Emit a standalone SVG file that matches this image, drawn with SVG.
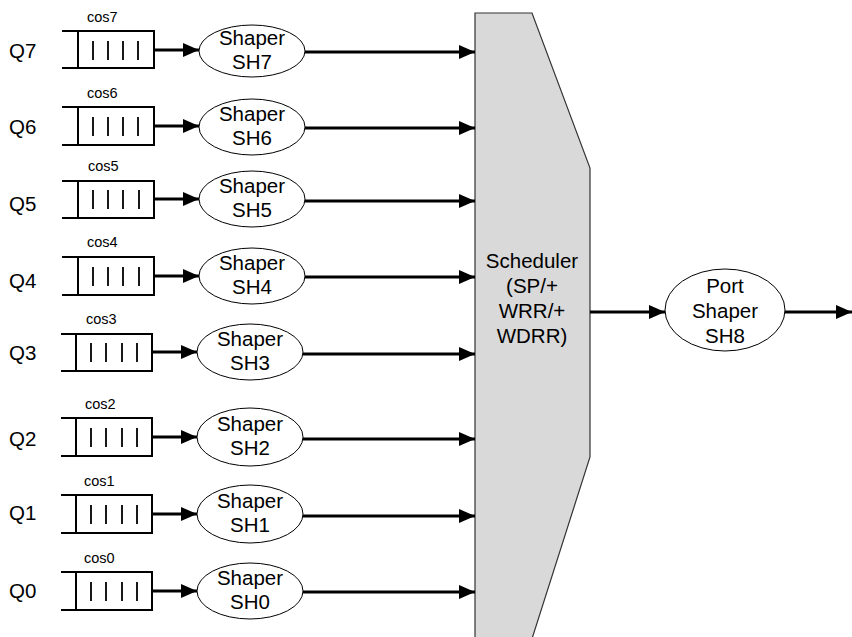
<svg xmlns="http://www.w3.org/2000/svg" width="852" height="637" viewBox="0 0 852 637">
<defs>
<style>
text{font-family:"Liberation Sans",Arial,sans-serif;fill:#000}
.lbl{font-size:20.5px}
.cos{font-size:14.5px}
.c{text-anchor:middle}
.q{fill:none;stroke:#000;stroke-width:2}
.bar{stroke:#000;stroke-width:1.8}
.sh{fill:#fff;stroke:#000;stroke-width:1}
.ar{fill:none;stroke:#000;stroke-width:3}
</style>
<marker id="ah" markerUnits="userSpaceOnUse" markerWidth="16" markerHeight="14" refX="16" refY="7" orient="auto">
<path d="M0,0 L16,7 L0,14 z" fill="#000"/>
</marker>
</defs>
<rect width="852" height="637" fill="#fff"/>

<g id="scheduler">
<polygon points="475,13 532,13 590,168 590,457 530,645 475,645" fill="#d9d9d9" stroke="#333" stroke-width="1.2"/>
<text class="lbl c" x="532" y="268">Scheduler</text>
<text class="lbl c" x="532" y="293">(SP/+</text>
<text class="lbl c" x="532" y="318">WRR/+</text>
<text class="lbl c" x="532" y="343">WDRR)</text>
</g>

<g id="q7">
<text class="lbl" x="9" y="58">Q7</text>
<text class="cos" x="87" y="22">cos7</text>
<path class="q" d="M62,31 H154 V68 H62 M78,31 V68"/>
<path class="bar" d="M93,41 V60 M108,41 V60 M123,41 V60 M138,41 V60"/>
</g>
<g id="sh7">
<ellipse class="sh" cx="252" cy="51" rx="53" ry="26"/>
<text class="lbl c" x="252" y="45">Shaper</text>
<text class="lbl c" x="252" y="69">SH7</text>
</g>

<g id="q6">
<text class="lbl" x="9" y="134">Q6</text>
<text class="cos" x="87" y="98">cos6</text>
<path class="q" d="M62,107 H154 V145 H62 M78,107 V145"/>
<path class="bar" d="M93,117 V136 M108,117 V136 M123,117 V136 M138,117 V136"/>
</g>
<g id="sh6">
<ellipse class="sh" cx="252" cy="127" rx="53" ry="28"/>
<text class="lbl c" x="252" y="121">Shaper</text>
<text class="lbl c" x="252" y="145">SH6</text>
</g>

<g id="q5">
<text class="lbl" x="9" y="211">Q5</text>
<text class="cos" x="88" y="171">cos5</text>
<path class="q" d="M62,181 H154 V218 H62 M78,181 V218"/>
<path class="bar" d="M93,190 V209 M108,190 V209 M123,190 V209 M139,190 V209"/>
</g>
<g id="sh5">
<ellipse class="sh" cx="252" cy="199" rx="53" ry="28"/>
<text class="lbl c" x="252" y="193">Shaper</text>
<text class="lbl c" x="252" y="217">SH5</text>
</g>

<g id="q4">
<text class="lbl" x="9" y="288">Q4</text>
<text class="cos" x="87" y="247">cos4</text>
<path class="q" d="M62,257 H154 V295 H62 M78,257 V295"/>
<path class="bar" d="M93,267 V286 M108,267 V286 M123,267 V286 M139,267 V286"/>
</g>
<g id="sh4">
<ellipse class="sh" cx="252" cy="276" rx="53" ry="28"/>
<text class="lbl c" x="252" y="270">Shaper</text>
<text class="lbl c" x="252" y="294">SH4</text>
</g>

<g id="q3">
<text class="lbl" x="9" y="360">Q3</text>
<text class="cos" x="86" y="324">cos3</text>
<path class="q" d="M61,334 H152 V371 H61 M76,334 V371"/>
<path class="bar" d="M91,343 V362 M106,343 V362 M122,343 V362 M137,343 V362"/>
</g>
<g id="sh3">
<ellipse class="sh" cx="250" cy="352" rx="53" ry="28"/>
<text class="lbl c" x="250" y="346">Shaper</text>
<text class="lbl c" x="250" y="370">SH3</text>
</g>

<g id="q2">
<text class="lbl" x="9" y="446">Q2</text>
<text class="cos" x="85" y="409">cos2</text>
<path class="q" d="M61,418 H152 V456 H61 M76,418 V456"/>
<path class="bar" d="M91,428 V447 M106,428 V447 M122,428 V447 M137,428 V447"/>
</g>
<g id="sh2">
<ellipse class="sh" cx="250" cy="437" rx="53" ry="29"/>
<text class="lbl c" x="250" y="431">Shaper</text>
<text class="lbl c" x="250" y="455">SH2</text>
</g>

<g id="q1">
<text class="lbl" x="9" y="520">Q1</text>
<text class="cos" x="84" y="486">cos1</text>
<path class="q" d="M61,495 H152 V533 H61 M76,495 V533"/>
<path class="bar" d="M91,505 V524 M106,505 V524 M122,505 V524 M137,505 V524"/>
</g>
<g id="sh1">
<ellipse class="sh" cx="250" cy="514" rx="53" ry="29"/>
<text class="lbl c" x="250" y="508">Shaper</text>
<text class="lbl c" x="250" y="532">SH1</text>
</g>

<g id="q0">
<text class="lbl" x="9" y="598">Q0</text>
<text class="cos" x="84" y="563">cos0</text>
<path class="q" d="M61,572 H152 V610 H61 M76,572 V610"/>
<path class="bar" d="M91,582 V601 M106,582 V601 M122,582 V601 M137,582 V601"/>
</g>
<g id="sh0">
<ellipse class="sh" cx="250" cy="591" rx="53" ry="28"/>
<text class="lbl c" x="250" y="585">Shaper</text>
<text class="lbl c" x="250" y="609">SH0</text>
</g>

<g id="sh8">
<ellipse class="sh" cx="725" cy="310" rx="60" ry="41"/>
<text class="lbl c" x="725" y="293">Port</text>
<text class="lbl c" x="725" y="318">Shaper</text>
<text class="lbl c" x="725" y="343">SH8</text>
</g>

<g id="connectors">
<line class="ar" x1="154" y1="50" x2="199" y2="50" marker-end="url(#ah)"/>
<line class="ar" x1="154" y1="126" x2="199" y2="126" marker-end="url(#ah)"/>
<line class="ar" x1="154" y1="199" x2="199" y2="199" marker-end="url(#ah)"/>
<line class="ar" x1="154" y1="276" x2="199" y2="276" marker-end="url(#ah)"/>
<line class="ar" x1="152" y1="352" x2="197" y2="352" marker-end="url(#ah)"/>
<line class="ar" x1="152" y1="437" x2="197" y2="437" marker-end="url(#ah)"/>
<line class="ar" x1="152" y1="514" x2="197" y2="514" marker-end="url(#ah)"/>
<line class="ar" x1="152" y1="591" x2="197" y2="591" marker-end="url(#ah)"/>
<line class="ar" x1="305" y1="52" x2="475" y2="52" marker-end="url(#ah)"/>
<line class="ar" x1="305" y1="128" x2="475" y2="128" marker-end="url(#ah)"/>
<line class="ar" x1="305" y1="201" x2="475" y2="201" marker-end="url(#ah)"/>
<line class="ar" x1="305" y1="277" x2="475" y2="277" marker-end="url(#ah)"/>
<line class="ar" x1="303" y1="354" x2="475" y2="354" marker-end="url(#ah)"/>
<line class="ar" x1="303" y1="439" x2="475" y2="439" marker-end="url(#ah)"/>
<line class="ar" x1="303" y1="516" x2="475" y2="516" marker-end="url(#ah)"/>
<line class="ar" x1="303" y1="592" x2="475" y2="592" marker-end="url(#ah)"/>
<line class="ar" x1="590" y1="312" x2="665" y2="312" marker-end="url(#ah)"/>
<line class="ar" x1="785" y1="312" x2="852" y2="312" marker-end="url(#ah)"/>
</g>
</svg>
